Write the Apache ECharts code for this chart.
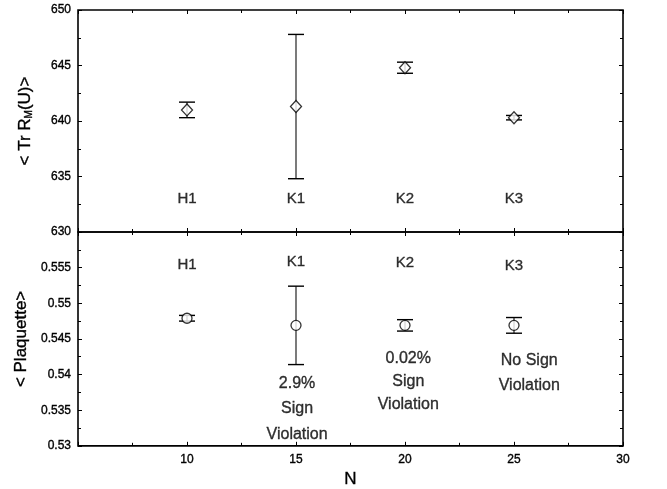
<!DOCTYPE html>
<html>
<head>
<meta charset="utf-8">
<script src="https://cdn.jsdelivr.net/npm/echarts@6/dist/echarts.min.js"></script>
<style>
  html, body { margin: 0; padding: 0; background: #fff; }
  #chart { width: 667px; height: 489px; }
</style>
</head>
<body>
<div id="chart"></div>
<script>
// Lattice actions compared at several N
const actionNames = ['H1', 'K1', 'K2', 'K3'];
const nValues = [10, 15, 20, 25];

// <Tr R_M(U)> means and errors
const traceMean = [641.0, 641.3, 644.8, 640.3];
const traceErr = [0.7, 6.5, 0.5, 0.2];

// <Plaquette> means and errors
const plaqMean = [0.5479, 0.5469, 0.5469, 0.5469];
const plaqErr = [0.0004, 0.0055, 0.0008, 0.0011];

// Where the action names sit in each panel (data units)
const traceNameY = [633.0, 633.0, 633.0, 633.0];
const plaqNameY = [0.5554, 0.5558, 0.5557, 0.5552];

// Sign-violation notes in the lower panel
const noteText = ['2.9%\nSign\nViolation', '0.02%\nSign\nViolation', 'No Sign\nViolation'];
const noteX = [15.05, 20.15, 25.7];
const noteY = [0.5352, 0.5390, 0.5402];

// Axis ticks
const xTicks = { min: 5, max: 30, interval: 5 };
const traceTicks = { min: 630, max: 650, interval: 5 };
const plaqTicks = { min: 0.53, max: 0.56, interval: 0.005 };

const FONT = "'Liberation Sans', Arial, Helvetica, sans-serif";
// slight stroke so text keeps the heavy print look
const INK = { color: '#000', textBorderColor: '#000', textBorderWidth: 0.35 };

const tickStyle = { show: true, inside: true, length: 4, lineStyle: { color: '#000', width: 1 } };
const minorStyle = { show: true, splitNumber: 2, length: 3, lineStyle: { color: '#000', width: 1 } };

function xAxisDef(gridIndex, position, showLabels) {
  return {
    type: 'value', gridIndex, position,
    min: xTicks.min, max: xTicks.max, interval: xTicks.interval,
    axisLine: { show: false },
    axisTick: tickStyle,
    minorTick: minorStyle,
    splitLine: { show: false },
    axisLabel: Object.assign({
      show: showLabels, fontFamily: FONT, fontSize: 12, margin: 8,
      formatter: v => (v === xTicks.min ? '' : String(v))
    }, INK)
  };
}

function yAxisDef(gridIndex, position, ticks, showLabels, formatter) {
  return {
    type: 'value', gridIndex, position,
    min: ticks.min, max: ticks.max, interval: ticks.interval,
    axisLine: { show: false },
    axisTick: tickStyle,
    minorTick: minorStyle,
    splitLine: { show: false },
    axisLabel: Object.assign({ show: showLabels, fontFamily: FONT, fontSize: 12, margin: 7, formatter }, INK)
  };
}

const axisTitleStyle = Object.assign({ fontFamily: FONT, fontSize: 17 }, INK);

const yTrace = yAxisDef(0, 'left', traceTicks, true, v => String(v));
yTrace.name = '< Tr R{sub|M}(U)>';
yTrace.nameLocation = 'middle';
yTrace.nameRotate = 90;
yTrace.nameGap = 44;
yTrace.nameTextStyle = Object.assign({}, axisTitleStyle, {
  rich: { sub: Object.assign({ fontFamily: FONT, fontSize: 10, verticalAlign: 'bottom', padding: [6, 0, 0, 0] }, INK) }
});

const yPlaq = yAxisDef(1, 'left', plaqTicks, true,
  v => (Math.abs(v - plaqTicks.max) < 1e-9 ? '' : String(+v.toFixed(3))));
yPlaq.name = '< Plaquette>';
yPlaq.nameLocation = 'middle';
yPlaq.nameRotate = 90;
yPlaq.nameGap = 44;
yPlaq.nameTextStyle = axisTitleStyle;

const xBottom = xAxisDef(1, 'bottom', true);
xBottom.name = 'N';
xBottom.nameLocation = 'middle';
xBottom.nameGap = 25;
xBottom.nameTextStyle = axisTitleStyle;

// Error bar: vertical stem with short horizontal caps
function errorBar(params, api) {
  const x = api.value(0), m = api.value(1), e = api.value(2);
  const hi = api.coord([x, m + e]);
  const lo = api.coord([x, m - e]);
  const half = 8;
  const style = { stroke: '#000', lineWidth: 1.4 };
  return {
    type: 'group',
    children: [
      { type: 'line', shape: { x1: hi[0], y1: hi[1], x2: lo[0], y2: lo[1] }, style: { stroke: '#222', lineWidth: 1.2 } },
      { type: 'line', shape: { x1: hi[0] - half, y1: hi[1], x2: hi[0] + half, y2: hi[1] }, style },
      { type: 'line', shape: { x1: lo[0] - half, y1: lo[1], x2: lo[0] + half, y2: lo[1] }, style }
    ]
  };
}

const textLabel = (size) => Object.assign({
  show: true, position: 'inside', fontFamily: FONT, fontSize: size,
  formatter: p => p.value[2]
}, INK);

const option = {
  animation: false,
  backgroundColor: '#fff',
  grid: [
    { left: 78, right: 44, top: 10, height: 222, show: true, borderColor: '#000', borderWidth: 1.6, backgroundColor: 'transparent' },
    { left: 78, right: 44, top: 232, height: 222, show: true, borderColor: '#000', borderWidth: 1.6, backgroundColor: 'transparent' }
  ],
  xAxis: [
    xAxisDef(0, 'bottom', false),
    xAxisDef(0, 'top', false),
    xBottom,
    xAxisDef(1, 'top', false)
  ],
  yAxis: [
    yTrace,
    yAxisDef(0, 'right', traceTicks, false),
    yPlaq,
    yAxisDef(1, 'right', plaqTicks, false)
  ],
  series: [
    {
      type: 'custom', xAxisIndex: 0, yAxisIndex: 0, renderItem: errorBar, z: 2,
      data: nValues.map((n, i) => [n, traceMean[i], traceErr[i]])
    },
    {
      type: 'scatter', xAxisIndex: 0, yAxisIndex: 0, symbol: 'diamond', symbolSize: [11, 12], z: 3,
      itemStyle: { color: '#fff', borderColor: '#000', borderWidth: 1.3 },
      data: nValues.map((n, i) => [n, traceMean[i]])
    },
    {
      type: 'custom', xAxisIndex: 2, yAxisIndex: 2, renderItem: errorBar, z: 2,
      data: nValues.map((n, i) => [n, plaqMean[i], plaqErr[i]])
    },
    {
      type: 'scatter', xAxisIndex: 2, yAxisIndex: 2, symbol: 'circle', symbolSize: 10, z: 3,
      itemStyle: { color: '#fff', borderColor: '#000', borderWidth: 1.3 },
      data: nValues.map((n, i) => [n, plaqMean[i]])
    },
    {
      type: 'scatter', xAxisIndex: 0, yAxisIndex: 0, symbolSize: 0, silent: true,
      label: textLabel(15),
      data: nValues.map((n, i) => [n, traceNameY[i], actionNames[i]])
    },
    {
      type: 'scatter', xAxisIndex: 2, yAxisIndex: 2, symbolSize: 0, silent: true,
      label: textLabel(15),
      data: nValues.map((n, i) => [n, plaqNameY[i], actionNames[i]])
    },
    {
      type: 'scatter', xAxisIndex: 2, yAxisIndex: 2, symbolSize: 0, silent: true,
      label: Object.assign(textLabel(16), { lineHeight: 25.5 }),
      data: noteText.map((t, i) => {
        const item = { value: [noteX[i], noteY[i], t] };
        if (i === 1) item.label = { lineHeight: 23 };
        return item;
      })
    }
  ]
};

const chart = echarts.init(document.getElementById('chart'), null, { renderer: 'canvas' });
chart.setOption(option);
</script>
</body>
</html>
